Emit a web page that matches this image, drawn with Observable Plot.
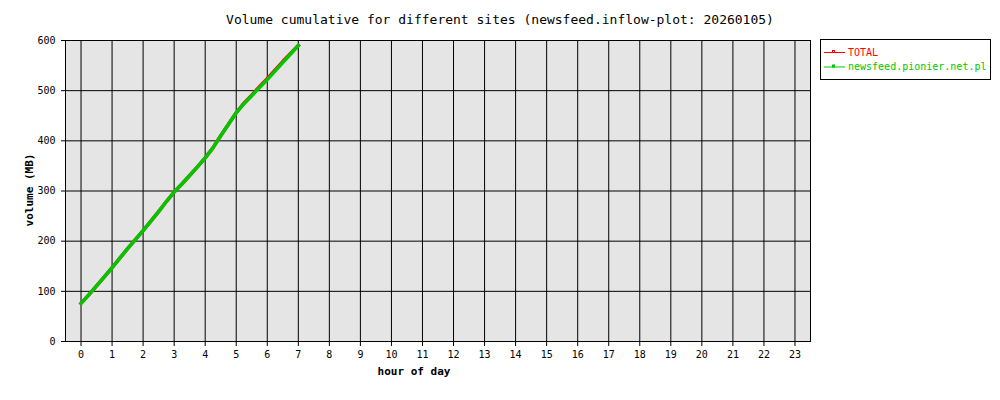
<!DOCTYPE html>
<html><head><meta charset="utf-8">
<script src="https://cdn.jsdelivr.net/npm/d3@7"></script>
<script src="https://cdn.jsdelivr.net/npm/@observablehq/plot@0.6"></script>
<style>body{margin:0;background:#fff}</style>
</head><body><div id="chart"></div>
<script>
const titleText = "Volume cumulative for different sites (newsfeed.inflow-plot: 20260105)";
const xLabel = "hour of day";
const yLabel = "volume (MB)";
const hours = [0,0.25,0.5,0.75,1,1.25,1.5,1.75,2,2.25,2.5,2.75,3,3.25,3.5,3.75,4,4.25,4.5,4.75,5,5.25,5.5,5.75,6,6.25,6.5,6.75,7];
const siteValues = [76,93,111,129,147,166,185,203,221,240,259,279,298,314,331,348,366,386,410,433,456,474,490,506,522,539,556,573,590];
const totalValues = [76,93,111,129,147,166,185,203,221,240,259,279,298,314,331,348,366,386,410,433,456,475,491,508,524,541,558,574,590];
const seriesNames = ["TOTAL","newsfeed.pionier.net.pl"];
const seriesColors = ["#ff0000","#00c800"];
const xTicks = d3.range(0,24);
const yTicks = [0,100,200,300,400,500,600];

const data = [];
hours.forEach((h,i)=>data.push({series:seriesNames[0],hour:h,value:totalValues[i]}));
hours.forEach((h,i)=>data.push({series:seriesNames[1],hour:h,value:siteValues[i]}));

const mono = "'DejaVu Sans Mono', 'Liberation Mono', monospace";
const plot = Plot.plot({
  width:1000, height:400,
  marginLeft:65, marginRight:190, marginTop:40, marginBottom:59,
  style:{fontFamily:mono, fontSize:"10px", background:"#fff", color:"#000"},
  x:{domain:[-0.5,23.5], label:null},
  y:{domain:[0,600], label:null},
  color:{domain:seriesNames, range:seriesColors},
  marks:[
    Plot.frame({fill:"#e5e5e5"}),
    Plot.gridX(xTicks,{stroke:"#000", strokeOpacity:1, strokeWidth:1}),
    Plot.gridY(yTicks,{stroke:"#000", strokeOpacity:1, strokeWidth:1}),
    Plot.axisX(xTicks,{tickSize:5, tickPadding:4, label:null, tickFormat:d=>String(d)}),
    Plot.axisY(yTicks,{tickSize:4, tickPadding:6, label:null, tickFormat:d=>String(d)}),
    Plot.line(data,{x:"hour", y:"value", z:"series", stroke:"series", strokeWidth:3.5, strokeLinejoin:"miter", strokeLinecap:"square"}),
    Plot.frame({stroke:"#000", strokeWidth:1})
  ]
});
document.getElementById("chart").appendChild(plot);

const svg = d3.select(plot);
svg.append("text").attr("x",500).attr("y",20).attr("text-anchor","middle").attr("dominant-baseline","middle")
  .attr("font-family",mono).attr("font-size",13).attr("fill","#000").text(titleText);
svg.append("text").attr("x",414).attr("y",372).attr("text-anchor","middle").attr("dominant-baseline","middle")
  .attr("font-family",mono).attr("font-size",11).attr("font-weight","bold").attr("fill","#000").text(xLabel);
svg.append("text").attr("transform","translate(30,190) rotate(-90)").attr("text-anchor","middle").attr("dominant-baseline","middle")
  .attr("font-family",mono).attr("font-size",11).attr("font-weight","bold").attr("fill","#000").text(yLabel);

const lg = svg.append("g");
lg.append("rect").attr("x",820.5).attr("y",39.5).attr("width",170).attr("height",40).attr("fill","#fff").attr("stroke","#000");
seriesNames.forEach((name,i)=>{
  const y = 52.5 + i*14.5;
  lg.append("line").attr("x1",824).attr("x2",845).attr("y1",y).attr("y2",y).attr("stroke",seriesColors[i]).attr("stroke-width",1);
  lg.append("rect").attr("x",832.5).attr("y",y-2).attr("width",2).attr("height",2).attr("fill","none").attr("stroke",seriesColors[i]).attr("stroke-width",1);
  lg.append("text").attr("x",848).attr("y",y).attr("text-anchor","start").attr("dominant-baseline","middle").attr("font-family",mono).attr("font-size",10)
    .attr("fill",seriesColors[i]).text(name);
});
</script></body></html>
